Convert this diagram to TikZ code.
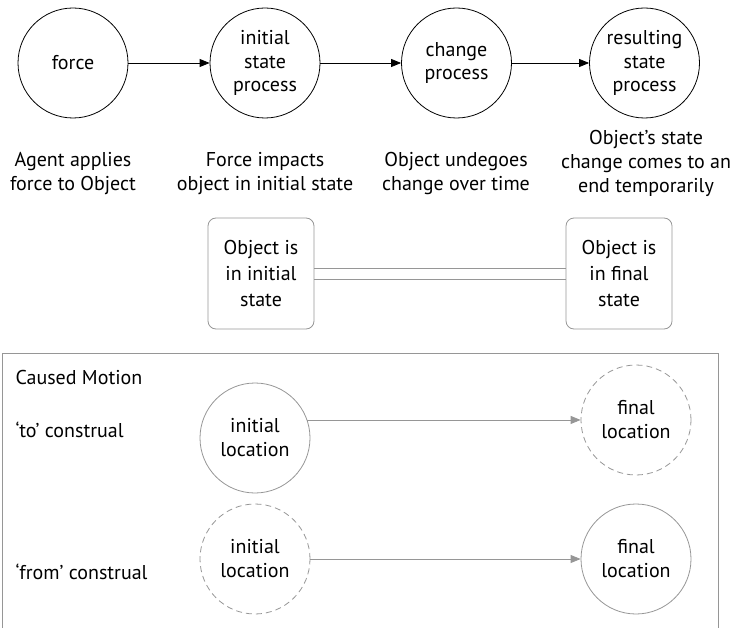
\documentclass[tikz,border=0pt]{standalone}
\usepackage{fontspec}
\setmainfont{PT Sans}
\usetikzlibrary{arrows.meta, positioning, calc}
\definecolor{framegray}{RGB}{150, 150, 150}
\newcommand{\stagefont}{\fontsize{20}{23.5}\selectfont}
\newcommand{\notefont}{\fontsize{20}{24}\selectfont}

\begin{document}
\begin{tikzpicture}[x=1pt, y=-1pt,
    stage/.style={circle, draw, line width=0.8pt, minimum size=110pt, inner sep=0pt, align=center, font=\stagefont},
    note/.style={align=center, font=\notefont},
    statebox/.style={draw=framegray, rounded corners=8pt, line width=0.8pt, minimum width=106pt, minimum height=111pt, align=center, font=\fontsize{20}{26}\selectfont},
    place/.style={circle, draw=framegray, line width=0.8pt, minimum size=110pt, inner sep=0pt, align=center, font=\notefont},
    ghost/.style={place, dash pattern=on 6pt off 4pt},
    flow/.style={-{Triangle[length=10pt, width=8pt]}, line width=0.8pt},
    move/.style={draw=framegray, line width=0.8pt, -{Triangle[length=10pt, width=8pt, fill=framegray]}}]
  \useasboundingbox (0,0) rectangle (735,628);

  % The process chain
  \node[stage] (force) at (73,63) {force};
  \node[stage] (init) at (265,63) {initial\\state\\process};
  \node[stage] (change) at (456.5,63) {change\\process};
  \node[stage] (result) at (644.5,63) {resulting\\state\\process};
  \draw[flow] (force) -- (init);
  \draw[flow] (init) -- (change);
  \draw[flow] (change) -- (result);

  % Descriptions below the chain
  \node[note] (agent) at (73,174) {Agent applies\\force to Object};
  \node[note] (impact) at (265,174) {Force impacts\\object in initial state};
  \node[note] (undergo) at (456,174) {Object undegoes\\change over time};
  \node[note] (ending) at (646,163) {Object's state\\change comes to an\\end temporarily};

  % States joined by a double line
  \node[statebox] (initbox) at (261,273.5) {Object is\\in initial\\state};
  \node[statebox] (finalbox) at (619,273.5) {Object is\\in final\\state};
  \draw[framegray, line width=0.8pt] ([yshift=5.5pt]initbox.east) -- ([yshift=5.5pt]finalbox.west);
  \draw[framegray, line width=0.8pt] ([yshift=-5.5pt]initbox.east) -- ([yshift=-5.5pt]finalbox.west);

  % Caused motion frame (open at the bottom)
  \draw[framegray, line width=0.8pt] (2,628) -- (2,353) -- (718,353) -- (718,628);
  \node[note, anchor=west] (caused) at (12,377) {Caused Motion};
  \node[note, anchor=west] (toc) at (12,430) {`to' construal};
  \node[note, anchor=west] (fromc) at (12,572) {`from' construal};

  % 'to' construal
  \node[place] (toinit) at (255,438) {initial\\location};
  \node[ghost] (tofinal) at (636,420) {final\\location};
  \draw[move] (toinit.19) -- (toinit.19 -| tofinal.west);

  % 'from' construal
  \node[ghost] (frominit) at (255,559) {initial\\location};
  \node[place] (fromfinal) at (636,559) {final\\location};
  \draw[move] (frominit) -- (fromfinal);
\end{tikzpicture}
\end{document}
